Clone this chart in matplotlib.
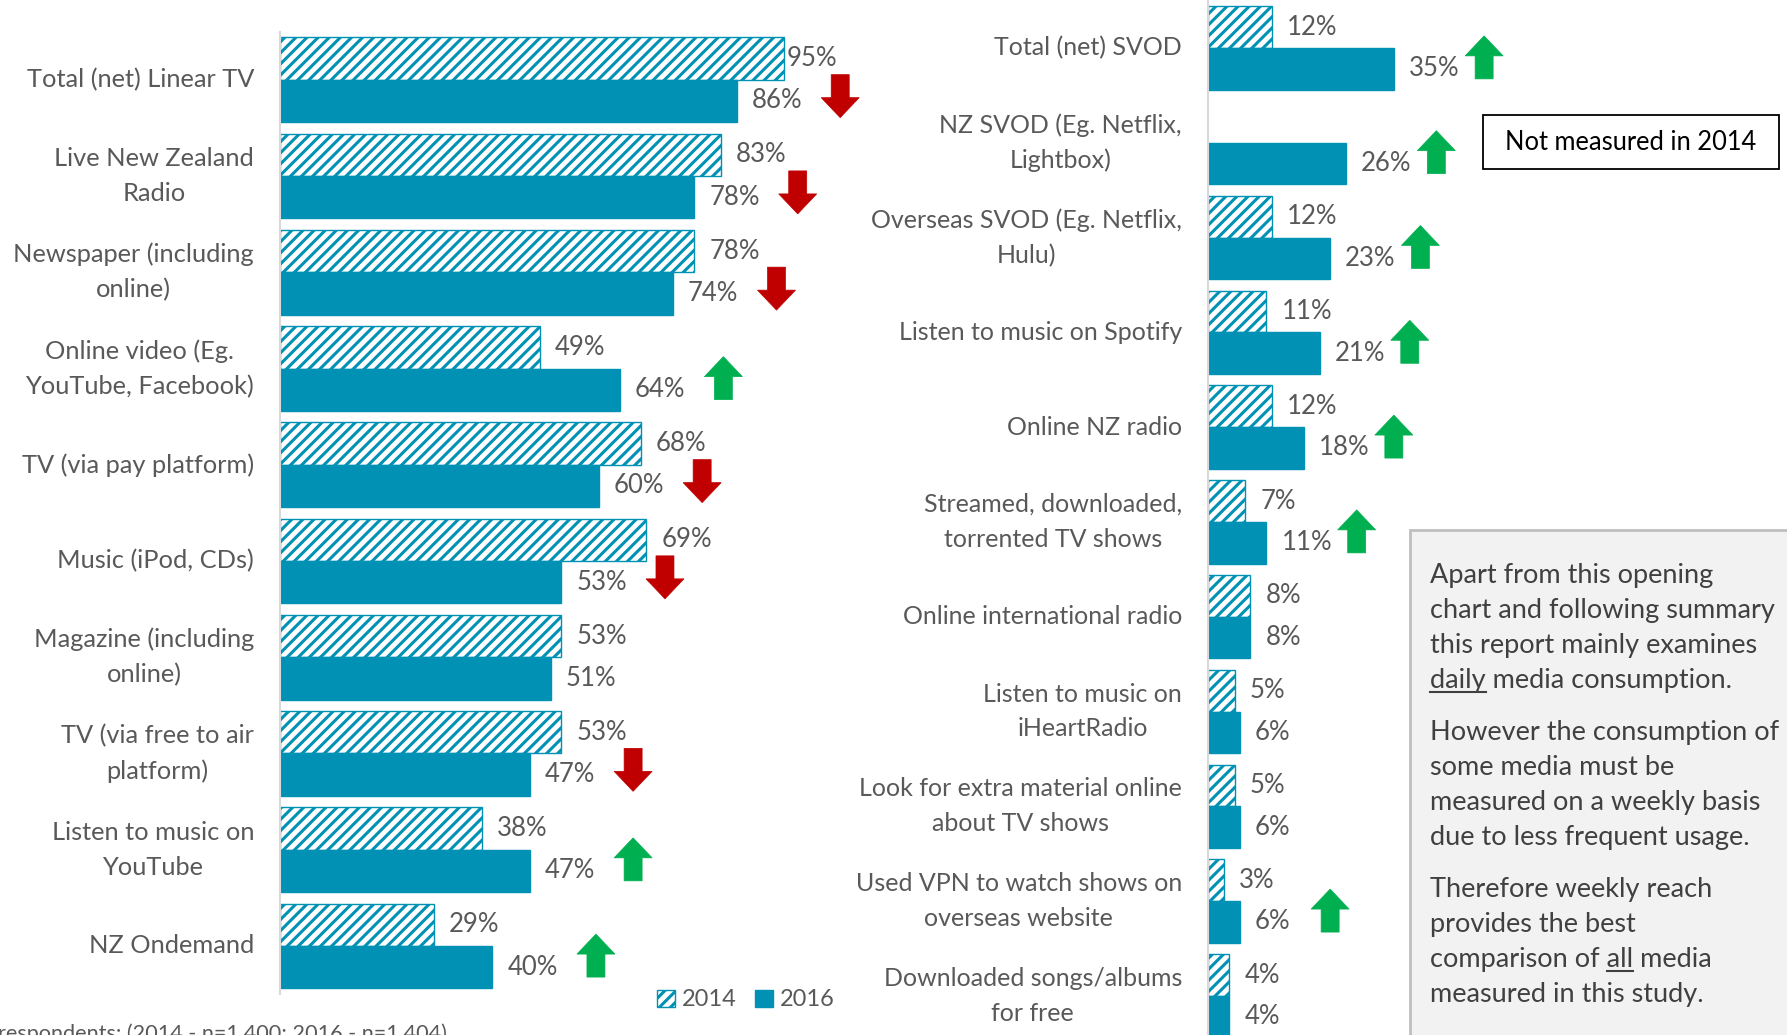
import matplotlib
matplotlib.use("Agg")
import matplotlib.pyplot as plt
import matplotlib.transforms as mtransforms
from matplotlib.patches import Rectangle, Polygon, Patch
from matplotlib.lines import Line2D

plt.rcParams['font.family'] = ['Lato', 'DejaVu Sans']
plt.rcParams['hatch.linewidth'] = 2.2

# ---------------- data ----------------
left_categories = [
    "Total (net) Linear TV", "Live New Zealand\nRadio", "Newspaper (including\nonline)",
    "Online video (Eg.\nYouTube, Facebook)", "TV (via pay platform)", "Music (iPod, CDs)",
    "Magazine (including\nonline)", "TV (via free to air\nplatform)", "Listen to music on\nYouTube",
    "NZ Ondemand",
]
left_2014 = [95, 83, 78, 49, 68, 69, 53, 53, 38, 29]
left_2016 = [86, 78, 74, 64, 60, 53, 51, 47, 47, 40]
left_change = ["down", "down", "down", "up", "down", "down", None, "down", "up", "up"]

right_categories = [
    "Total (net) SVOD", "NZ SVOD (Eg. Netflix,\nLightbox)", "Overseas SVOD (Eg. Netflix,\nHulu)",
    "Listen to music on Spotify", "Online NZ radio", "Streamed, downloaded,\ntorrented TV shows",
    "Online international radio", "Listen to music on\niHeartRadio",
    "Look for extra material online\nabout TV shows", "Used VPN to watch shows on\noverseas website",
    "Downloaded songs/albums\nfor free",
]
right_2014 = [12, None, 12, 11, 12, 7, 8, 5, 5, 3, 4]
right_2016 = [35, 26, 23, 21, 18, 11, 8, 6, 6, 6, 4]
right_change = ["up", "up", "up", "up", "up", "up", None, None, None, "up", None]

series_labels = ["2014", "2016"]

note_paragraphs = [
    ["Apart from this opening", "chart and following summary",
     "this report mainly examines", "daily media consumption."],
    ["However the consumption of", "some media must be",
     "measured on a weekly basis", "due to less frequent usage."],
    ["Therefore weekly reach", "provides the best",
     "comparison of all media", "measured in this study."],
]
not_measured_text = "Not measured in 2014"
base_text = "respondents: (2014 - n=1,400; 2016 - n=1,404)"

# ---------------- style ----------------
TEAL = '#0091B4'
RED = '#C00000'
GREEN = '#00B050'
LABEL_GREY = '#595959'
BOX_TEXT = '#404040'
AXIS_GREY = '#D9D9D9'

W, H = 1787, 1035
fig = plt.figure(figsize=(W / 100, H / 100), dpi=100)

PX_PER_PCT = 5.31


def make_axes(left_px, xmax, top_px, group_px, ylim_top, ylim_bot):
    width_px = xmax * PX_PER_PCT
    y_top_px = top_px + ylim_top * group_px
    y_bot_px = top_px + ylim_bot * group_px
    ax = fig.add_axes([left_px / W, 1 - y_bot_px / H, width_px / W, (y_bot_px - y_top_px) / H])
    ax.set_xlim(0, xmax)
    ax.set_ylim(ylim_bot, ylim_top)
    for s in ['top', 'right', 'bottom']:
        ax.spines[s].set_visible(False)
    ax.spines['left'].set_color(AXIS_GREY)
    ax.spines['left'].set_linewidth(1.5)
    ax.set_xticks([])
    ax.set_yticks([])
    ax.patch.set_alpha(0)
    return ax


def arrow_poly(ax, x, y, direction, color):
    hw, sw, ht, hl = 19.0, 9.0, 21.5, 20.0
    if direction == "down":
        pts = [(-sw, ht), (sw, ht), (sw, -ht + hl), (hw, -ht + hl), (0, -ht), (-hw, -ht + hl), (-sw, -ht + hl)]
    else:
        pts = [(-sw, -ht), (sw, -ht), (sw, ht - hl), (hw, ht - hl), (0, ht), (-hw, ht - hl), (-sw, ht - hl)]
    tr = mtransforms.ScaledTranslation(x, y, ax.transData)
    poly = Polygon(pts, closed=True, facecolor=color, edgecolor=color, lw=0.5,
                   transform=tr, clip_on=False)
    fig.add_artist(poly)


def draw_panel(ax, cats, v14, v16, changes, bar_h, arrow_dx, fs_lab, fs_val):
    n = len(cats)
    for i in range(n):
        if v14[i] is not None:
            ax.barh(i - bar_h / 2, v14[i], height=bar_h, facecolor='white',
                    edgecolor=TEAL, hatch='///', linewidth=1.0)
            off = 2 if v14[i] >= 90 else 15
            ax.annotate(f"{v14[i]}%", xy=(v14[i], i - bar_h / 2), xytext=(off * 0.72, 0),
                        textcoords='offset points', ha='left', va='center',
                        fontsize=fs_val, color=LABEL_GREY, annotation_clip=False)
        ax.barh(i + bar_h / 2, v16[i], height=bar_h, facecolor=TEAL,
                edgecolor=TEAL, linewidth=1.0)
        ax.annotate(f"{v16[i]}%", xy=(v16[i], i + bar_h / 2), xytext=(15 * 0.72, 0),
                    textcoords='offset points', ha='left', va='center',
                    fontsize=fs_val, color=LABEL_GREY, annotation_clip=False)
        ax.annotate(cats[i], xy=(0, i), xycoords=ax.get_yaxis_transform(),
                    xytext=(-26 * 0.72, 0), textcoords='offset points',
                    ha='right', va='center', multialignment='center',
                    fontsize=fs_lab, color=LABEL_GREY, linespacing=1.62,
                    annotation_clip=False)
        if changes[i] is not None:
            dy = 0.17 if changes[i] == "down" else 0.10
            arrow_poly(ax, v16[i] + arrow_dx, i + dy, changes[i],
                       RED if changes[i] == "down" else GREEN)


# Left panel
axL = make_axes(280, 110, 79.8, 96.24, -0.5, 9.5)
draw_panel(axL, left_categories, left_2014, left_2016, left_change, 0.44, 19.5, 18.3, 18.5)

# Right panel
axR = make_axes(1208, 60, 47.9, 94.8, -0.5053, 10.412)
draw_panel(axR, right_categories, right_2014, right_2016, right_change, 0.44, 17, 18.0, 18.5)

# Legend
handles = [Patch(facecolor='white', edgecolor=TEAL, hatch='///', linewidth=1.0),
           Patch(facecolor=TEAL, edgecolor=TEAL)]
fig.legend(handles, series_labels, loc='center', bbox_to_anchor=(746 / W, 1 - 1000 / H),
           ncol=2, frameon=False, handlelength=0.75, handleheight=0.75, handletextpad=0.3,
           columnspacing=0.8, fontsize=17, labelcolor=LABEL_GREY)

# Not measured box
fig.add_artist(Rectangle((1483 / W, 1 - 169 / H), 296 / W, 54 / H, transform=fig.transFigure,
                         facecolor='white', edgecolor='black', lw=1.3))
fig.text(1631 / W, 1 - 142 / H, not_measured_text, ha='center', va='center',
         fontsize=18.4, color='black')

# Grey note box
fig.add_artist(Rectangle((1410 / W, -0.02), 0.25, 0.02 + 1 - 530 / H, transform=fig.transFigure,
                         facecolor='#F2F2F2', edgecolor='#BFBFBF', lw=2))
baselines = [[583, 618, 653, 688], [740, 775, 810, 845], [897, 932, 967, 1002]]
renderer = fig.canvas.get_renderer()
note_fs = 19.5
x_note = 1430
for p, para in enumerate(note_paragraphs):
    for l, line in enumerate(para):
        yb = baselines[p][l]
        t = fig.text(x_note / W, 1 - yb / H, line, ha='left', va='baseline',
                     fontsize=note_fs, color=BOX_TEXT)
        word = None
        if line.startswith("daily"):
            word, prefix = "daily", ""
        elif "of all" in line:
            word, prefix = "all", "comparison of all"
        if word:
            tmp = fig.text(0, 0, prefix if prefix else word, fontsize=note_fs)
            pw = tmp.get_window_extent(renderer).width
            tmp2 = fig.text(0, 0, word, fontsize=note_fs)
            ww = tmp2.get_window_extent(renderer).width
            tmp.remove(); tmp2.remove()
            x1 = x_note + (pw if prefix else ww)
            x0 = x1 - ww
            yu = yb + 4
            fig.add_artist(Line2D([x0 / W, x1 / W], [1 - yu / H, 1 - yu / H],
                                  transform=fig.transFigure, color=BOX_TEXT, lw=1.5))

# Base note (cut off at the edge as in the source)
fig.text(-2 / W, 1 - 1040 / H, base_text, ha='left', va='baseline', fontsize=15.6, color=LABEL_GREY)

fig.savefig("out.png", dpi=100)
